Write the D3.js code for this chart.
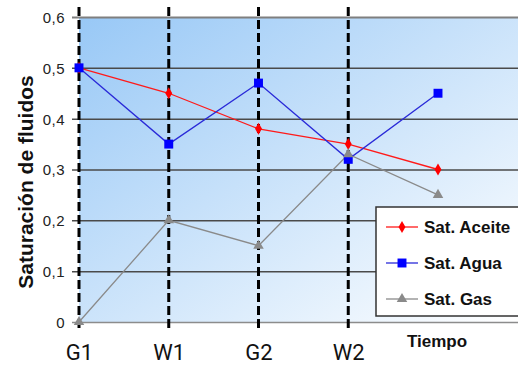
<!DOCTYPE html>
<html>
<head>
<meta charset="utf-8">
<script src="https://cdn.jsdelivr.net/npm/d3@7"></script>
<style>
  html, body { margin: 0; padding: 0; background: #fff; }
  svg { display: block; }
</style>
</head>
<body>
<svg id="chart" width="518" height="367"></svg>
<script>
// Stages along the time axis (the last stage carries no label)
const stages = ["G1", "W1", "G2", "W2", "F"];
const stageLabels = ["G1", "W1", "G2", "W2", ""];
// Stages marked with a dashed vertical line
const markedStages = ["G1", "W1", "G2", "W2"];

// Fluid saturation per stage
const satAceite = [0.50, 0.45, 0.38, 0.35, 0.30];
const satAgua   = [0.50, 0.35, 0.47, 0.32, 0.45];
const satGas    = [0.00, 0.20, 0.15, 0.33, 0.25];

const yTicks = [0, 0.1, 0.2, 0.3, 0.4, 0.5, 0.6];
const yTickLabels = ["0", "0,1", "0,2", "0,3", "0,4", "0,5", "0,6"];

const seriesNames = ["Sat. Aceite", "Sat. Agua", "Sat. Gas"];

const series = [
  { name: seriesNames[0], values: satAceite, color: "#ff0000", line: "#ff1a1a", symbol: d3.symbolDiamond, size: 42 },
  { name: seriesNames[1], values: satAgua,   color: "#0000ff", line: "#2a2ad8", symbol: d3.symbolSquare,  size: 80 },
  { name: seriesNames[2], values: satGas,    color: "#8a8a8a", line: "#8a8a8a", symbol: d3.symbolTriangle, size: 48 }
];

const svg = d3.select("#chart");
const W = 518;
const plot = { left: 79, right: 518, top: 17, bottom: 322 };

const x = d3.scalePoint().domain(stages).range([79, 438]);
const y = d3.scaleLinear().domain([0, 0.6]).range([plot.bottom, plot.top]);

// Plot background gradient
const defs = svg.append("defs");
const grad = defs.append("linearGradient")
  .attr("id", "bg").attr("x1", 0).attr("y1", 0).attr("x2", 1).attr("y2", 1);
grad.append("stop").attr("offset", "0%").attr("stop-color", "#98c8f6");
grad.append("stop").attr("offset", "100%").attr("stop-color", "#ffffff");

svg.append("rect")
  .attr("x", plot.left).attr("y", plot.top)
  .attr("width", plot.right - plot.left).attr("height", plot.bottom - plot.top)
  .attr("fill", "url(#bg)");

// Horizontal gridlines with small ticks on the left
const yAxis = d3.axisLeft(y)
  .tickValues(yTicks)
  .tickSize(-(W - plot.left))
  .tickPadding(14)
  .tickFormat((d, i) => yTickLabels[i]);

const gy = svg.append("g")
  .attr("transform", `translate(${plot.left},0)`)
  .call(yAxis);
gy.select(".domain").remove();
gy.selectAll(".tick line")
  .attr("x1", -7)
  .attr("stroke", d => d === 0.6 ? "#7f7f7f" : (d === 0 ? "#8c8c8c" : "#4a4a4a"))
  .attr("stroke-width", d => d === 0.6 ? 2 : 1.5);
gy.selectAll(".tick text")
  .attr("fill", "#222")
  .style("font-family", "Arial, 'Liberation Sans', sans-serif")
  .style("font-size", "15px")
  .style("letter-spacing", "0.5px")
  .attr("dy", "0.36em");

// Dashed stage markers
svg.append("g").selectAll("line")
  .data(markedStages)
  .join("line")
  .attr("x1", d => x(d)).attr("x2", d => x(d))
  .attr("y1", 7).attr("y2", 329)
  .attr("stroke", "#000")
  .attr("stroke-width", 3)
  .attr("stroke-dasharray", "9,4");

// Stage labels
const xAxis = d3.axisBottom(x).tickSize(0).tickPadding(0)
  .tickFormat((d, i) => stageLabels[i]);
const gx = svg.append("g").attr("transform", `translate(0,360)`).call(xAxis);
gx.select(".domain").remove();
gx.selectAll(".tick text")
  .attr("y", 0).attr("dy", 0)
  .attr("fill", "#111")
  .style("font-family", "Roboto, sans-serif")
  .style("font-size", "22px");

// Series lines and markers
const line = d3.line()
  .x((d, i) => x(stages[i]))
  .y(d => y(d));

const gs = svg.append("g");
series.forEach(s => {
  gs.append("path")
    .attr("d", line(s.values))
    .attr("fill", "none")
    .attr("stroke", s.line)
    .attr("stroke-width", 1.3);
});
series.forEach(s => {
  gs.append("g").selectAll("path")
    .data(s.values)
    .join("path")
    .attr("transform", (d, i) => `translate(${x(stages[i])},${y(d)})`)
    .attr("d", d3.symbol().type(s.symbol).size(s.size))
    .attr("fill", s.color);
});

// Axis titles
svg.append("text")
  .attr("transform", "translate(33,182) rotate(-90)")
  .attr("text-anchor", "middle")
  .attr("fill", "#111")
  .style("font-family", "Arial, 'Liberation Sans', sans-serif")
  .style("font-weight", "bold")
  .style("font-size", "21px")
  .text("Saturación de fluidos");

svg.append("text")
  .attr("x", 437).attr("y", 347)
  .attr("text-anchor", "middle")
  .attr("fill", "#111")
  .style("font-family", "Arial, 'Liberation Sans', sans-serif")
  .style("font-weight", "bold")
  .style("font-size", "17px")
  .text("Tiempo");

// Legend
const lg = svg.append("g");
lg.append("rect")
  .attr("x", 376).attr("y", 207)
  .attr("width", 150).attr("height", 109)
  .attr("fill", "#fff")
  .attr("stroke", "#333")
  .attr("stroke-width", 1.5);

const rowY = d3.scalePoint().domain(seriesNames).range([227, 299]);
series.forEach(s => {
  const yy = rowY(s.name);
  lg.append("line")
    .attr("x1", 386).attr("x2", 418)
    .attr("y1", yy).attr("y2", yy)
    .attr("stroke", s.line).attr("stroke-width", 1.3);
  lg.append("path")
    .attr("transform", `translate(402,${yy})`)
    .attr("d", d3.symbol().type(s.symbol).size(s.size))
    .attr("fill", s.color);
  lg.append("text")
    .attr("x", 424).attr("y", yy + 6)
    .attr("fill", "#111")
    .style("font-family", "Arial, 'Liberation Sans', sans-serif")
    .style("font-weight", "bold")
    .style("font-size", "17px")
    .text(s.name);
});
</script>
</body>
</html>
